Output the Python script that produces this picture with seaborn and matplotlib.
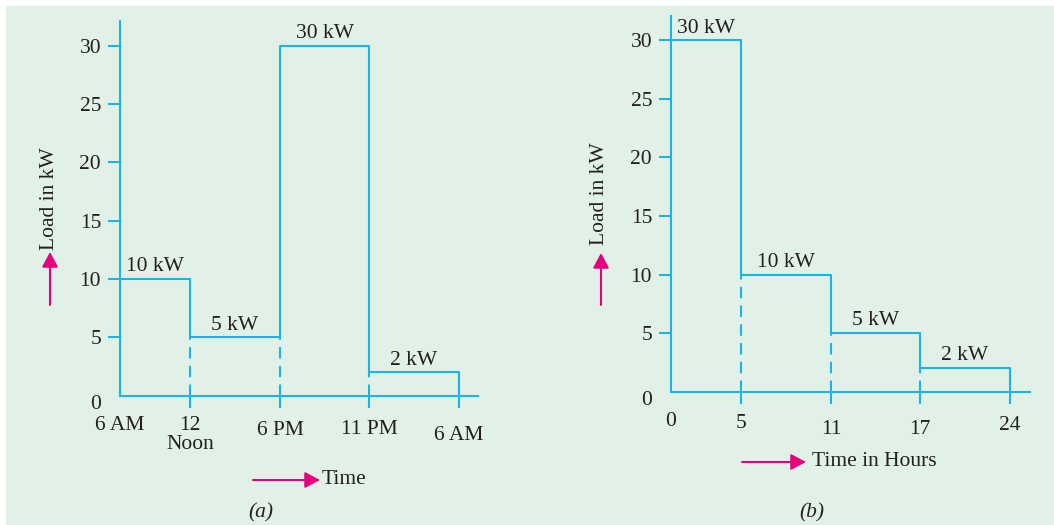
import numpy as np
import pandas as pd
import matplotlib
matplotlib.use('Agg')
import matplotlib.pyplot as plt
from matplotlib.patches import FancyArrowPatch
from matplotlib.transforms import ScaledTranslation
import seaborn as sns

# (a) load curve over the day
hours_a = [0, 6, 12, 17, 24]
labels_a = ['6 AM', '12\nNoon', '6 PM', '11 PM', '6 AM']
load_a = [10, 5, 30, 2]

# (b) load duration curve
hours_b = [0, 5, 11, 17, 24]
labels_b = ['0', '5', '11', '17', '24']
load_b = [30, 10, 5, 2]

y_ticks = [0, 5, 10, 15, 20, 25, 30]

LINE = '#1ab4ea'
BG = '#e2f1e7'
PINK = '#e6007e'
INK = '#231f20'
FS = 15.5

W, H = 1054, 525
# the sketch is not drawn to scale, every slot has its own width on paper
slot_px = [0, 70, 160, 249, 339, 417]

sns.set_theme(style='white')
plt.rcParams['font.family'] = ['Liberation Serif', 'DejaVu Serif']

fig = plt.figure(figsize=(W / 100, H / 100), dpi=100)
fig.patch.set_facecolor('white')
fig.patches.append(plt.Rectangle((6 / W, 0), 1, 1 - 6 / H, transform=fig.transFigure,
                                 facecolor=BG, edgecolor='none', zorder=-10))


def fxy(x, y):
    return x / W, 1 - y / H


def nudge(label, dy_px):
    label.set_transform(label.get_transform() + ScaledTranslation(0, -dy_px / 100, fig.dpi_scale_trans))


def panel(left, bottom, top, right, hours, loads, labels, ymax, drops):
    ax = fig.add_axes([left / W, 1 - bottom / H, (right - left) / W, (bottom - top) / H])
    ax.set_facecolor('none')
    knots = list(hours) + [hours[-1] + 6]
    fwd = lambda x: np.interp(x, knots, slot_px)
    inv = lambda x: np.interp(x, slot_px, knots)
    ax.set_xscale('function', functions=(fwd, inv))

    df = pd.DataFrame({'hour': hours, 'load': list(loads) + [0]})
    sns.lineplot(data=df, x='hour', y='load', drawstyle='steps-post', color=LINE,
                 lw=1.5, sort=False, estimator=None, ax=ax, clip_on=False)
    tops = [min(loads[i - 1], loads[i]) for i in range(1, len(loads))]
    ax.vlines(hours[1:-1], 0, tops, colors=LINE, linestyles=(0, (5.5, 3.5)), lw=1.5)

    for i, v in enumerate(loads):
        mid = inv((fwd(hours[i]) + fwd(hours[i + 1])) / 2)
        ax.annotate(f'{v} kW', xy=(mid, v), xytext=(0, 2), textcoords='offset points',
                    ha='center', va='bottom', fontsize=FS, color=INK)

    ax.set_xlim(0, inv(right - left))
    ax.set_ylim(0, ymax)
    ax.set_xticks(hours)
    ax.set_xticklabels(labels, linespacing=1.0)
    ax.set_yticks(y_ticks)
    ax.set_xlabel('')
    ax.set_ylabel('')
    for s in ['top', 'right']:
        ax.spines[s].set_visible(False)
    for s in ['left', 'bottom']:
        ax.spines[s].set_color(LINE)
        ax.spines[s].set_linewidth(1.5)
    ax.tick_params(axis='both', direction='out', length=8.6, width=1.5, color=LINE,
                   labelsize=FS, labelcolor=INK, bottom=True, left=True)
    ax.tick_params(axis='x', pad=6)
    ax.tick_params(axis='y', pad=5)
    ax.xaxis.get_major_ticks()[0].tick1line.set_visible(False)
    ax.yaxis.get_major_ticks()[0].tick1line.set_visible(False)
    # hand lettered look: labels sit at slightly different heights
    for lab, d in zip(ax.get_xticklabels(), drops):
        nudge(lab, d)
    nudge(ax.get_yticklabels()[0], 6)
    return ax


ax1 = panel(120, 395.7, 21, 478, hours_a, load_a, labels_a, 32.1, [0, 0, 5, 4, 10])
ax2 = panel(671, 391.7, 16, 1030, hours_b, load_b, labels_b, 32.08, [0, 2, 8, 8, 4])

arrow = dict(arrowstyle='-|>,head_length=0.45,head_width=0.24', color=PINK, lw=1.5,
             mutation_scale=20, shrinkA=0, shrinkB=0)

# y axis captions with arrows
fig.text(*fxy(49, 250), 'Load in kW', rotation=90, ha='center', va='bottom', fontsize=FS, color=INK)
fig.text(*fxy(600, 245), 'Load in kW', rotation=90, ha='center', va='bottom', fontsize=FS, color=INK)
fig.add_artist(FancyArrowPatch(fxy(50, 305), fxy(50, 252), transform=fig.transFigure, **arrow))
fig.add_artist(FancyArrowPatch(fxy(601, 305), fxy(601, 253), transform=fig.transFigure, **arrow))

# x axis captions with arrows
fig.text(*fxy(322, 480), 'Time', ha='left', va='center', fontsize=FS, color=INK)
fig.text(*fxy(812, 462), 'Time in Hours', ha='left', va='center', fontsize=FS, color=INK)
fig.add_artist(FancyArrowPatch(fxy(253, 480), fxy(320, 480), transform=fig.transFigure, **arrow))
fig.add_artist(FancyArrowPatch(fxy(742, 462), fxy(806, 462), transform=fig.transFigure, **arrow))

fig.text(*fxy(261, 513), '(a)', ha='center', va='center', fontsize=FS, style='italic', color=INK)
fig.text(*fxy(812, 513), '(b)', ha='center', va='center', fontsize=FS, style='italic', color=INK)

fig.savefig('out.png', dpi=100, facecolor=fig.get_facecolor())
